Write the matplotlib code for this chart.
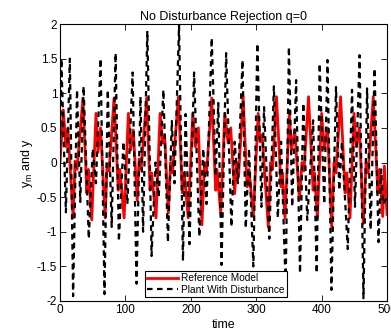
import numpy as np
import matplotlib
matplotlib.use('agg')
import matplotlib.pyplot as plt

plt.rcParams['font.family'] = ['Liberation Sans', 'DejaVu Sans']
plt.rcParams['mathtext.fontset'] = 'custom'
plt.rcParams['mathtext.rm'] = 'Liberation Sans'
plt.rcParams['mathtext.it'] = 'Liberation Sans'

# reference model output (turning points)
t_ref = [0, 5, 9, 12, 20, 23, 26, 35, 41, 43.5, 48.5, 55, 58, 62, 69, 72, 75,
         82.6, 89, 91.5, 98, 104.5, 108, 112, 118, 121, 124, 132.5, 137.6, 140,
         146.8, 153, 157, 160, 165.6, 169, 172, 181, 187, 190, 196, 203, 207,
         211.5, 217, 221, 224, 232, 238, 240, 245.7, 252, 257, 261, 267, 270,
         273, 280, 286, 289, 295.6, 303, 306, 309, 318.5, 322, 325, 331, 338,
         340, 344, 350.6, 354, 359, 366, 370, 373, 380, 387, 389, 393.5, 400,
         404, 409, 415.4, 419, 422, 429, 436, 438.5, 443.4, 449.5, 453, 457.7,
         463.8, 468, 471, 479, 486, 488.5, 493.4, 496, 500]
y_ref = [0.0, 0.76, 0.23, 0.5, -0.8, 0.02, -0.1, 0.93, -0.44, -0.1, -0.83, 0.71,
         0.15, 0.5, -0.8, -0.02, -0.12, 0.93, -0.4, -0.1, -0.8, 0.71, 0.18, 0.47,
         -0.55, 0.05, -0.1, 0.93, -0.4, -0.15, -0.8, 0.71, 0.28, 0.39, -0.73,
         0.0, -0.15, 0.95, -0.44, -0.15, -0.8, 0.71, 0.23, 0.5, -0.9, 0.0, -0.15,
         0.93, -0.4, -0.1, -0.73, 0.71, 0.28, 0.5, -0.45, 0.0, -0.2, 0.95, -0.35,
         -0.1, -0.78, 0.71, 0.3, 0.4, -0.93, 0.0, -0.1, 0.95, -0.35, -0.15, -0.8,
         0.71, 0.18, 0.47, -0.54, 0.0, -0.12, 0.95, -0.4, -0.15, -0.8, 0.71, 0.2,
         0.5, -0.93, 0.0, -0.15, 0.95, -0.44, -0.15, -0.8, 0.71, 0.23, 0.5,
         -0.88, 0.0, -0.15, 0.95, -0.44, -0.1, -0.78, -0.05, -0.75]

# plant output with disturbance
t_plant = [0, 2, 9, 15, 20, 26, 31, 36, 44, 50, 55, 62, 68, 73, 79, 85, 90, 97,
           103, 111, 117, 123, 127, 133.5, 140, 146, 151, 158, 165, 171, 175,
           182, 188, 192, 198, 205, 213, 219, 224, 232, 238, 242, 247, 254, 262,
           267, 272, 279, 284, 289, 295.6, 301.7, 308, 312, 320, 327, 333, 338,
           345, 350, 355, 361, 367, 372, 378, 387, 392.5, 397, 404, 409, 415,
           422, 427, 431, 440, 446.5, 451, 458, 464, 469.5, 475, 481, 487, 491,
           494, 500]
y_plant = [0.1, 1.5, -0.72, 1.5, -1.93, 1.05, -0.57, 1.1, -1.1, 0.2, -0.3, 1.5,
           -1.9, 1.05, -0.93, 1.58, -1.14, 0.3, -0.6, 1.3, -1.75, 0.95, -1.0,
           1.9, -1.35, 0.0, -0.5, 1.05, -1.15, 0.6, -0.3, 1.98, -1.42, 0.7, -1.18,
           1.3, -1.07, 0.2, -0.6, 1.8, -0.2, 0.86, -1.48, 1.58, -0.93, 0.3, -0.3,
           1.48, -0.95, 0.2, -1.5, 1.72, -0.64, 0.8, -1.1, 1.1, -0.8, 0.3, -1.79,
           1.67, -0.64, 1.19, -1.6, 0.86, -0.83, 0.61, -1.6, 1.43, -0.6, 1.48,
           -1.84, 1.09, -0.4, 0.3, -1.25, 1.05, -0.64, 1.55, -1.96, 1.07, -0.97,
           1.36, -1.15, -0.1, -0.6, -0.5]

yticks = [-2, -1.5, -1, -0.5, 0, 0.5, 1, 1.5, 2]
ytick_labels = ['-2', '-1.5', '-1', '-0.5', '0', '0.5', '1', '1.5', '2']
xticks = [0, 100, 200, 300, 400, 500]

fig = plt.figure(figsize=(3.91, 3.35), dpi=100)
ax = fig.add_axes([0.1535, 0.1015, 0.8363, 0.8268])

ax.plot(t_ref, y_ref, color='red', lw=2, label='Reference Model')
ax.plot(t_plant, y_plant, color='black', lw=1.6, ls=(0, (2.5, 2)),
        label='Plant With Disturbance')

ax.set_xlim(0, 500)
ax.set_ylim(-2, 2)
ax.set_xticks(xticks)
ax.set_yticks(yticks)
ax.set_yticklabels(ytick_labels)
ax.tick_params(direction='in', top=True, right=True, length=4, width=0.6,
               labelsize=8.5, pad=2)
for s in ax.spines.values():
    s.set_linewidth(0.8)

ax.set_title('No Disturbance Rejection q=0', fontsize=9, pad=3)
ax.set_xlabel('time', fontsize=9, labelpad=2)
ax.set_ylabel(r'y$_{\rm m}$ and y', fontsize=9, labelpad=1)

leg = ax.legend(loc='lower center', bbox_to_anchor=(0.476, 0.014), fontsize=7.3,
                fancybox=False, framealpha=1, edgecolor='black',
                handlelength=3.0, borderpad=0.25, labelspacing=0.12,
                handletextpad=0.3, borderaxespad=0)
leg.get_frame().set_linewidth(0.8)

fig.savefig('out.png', dpi=100)
